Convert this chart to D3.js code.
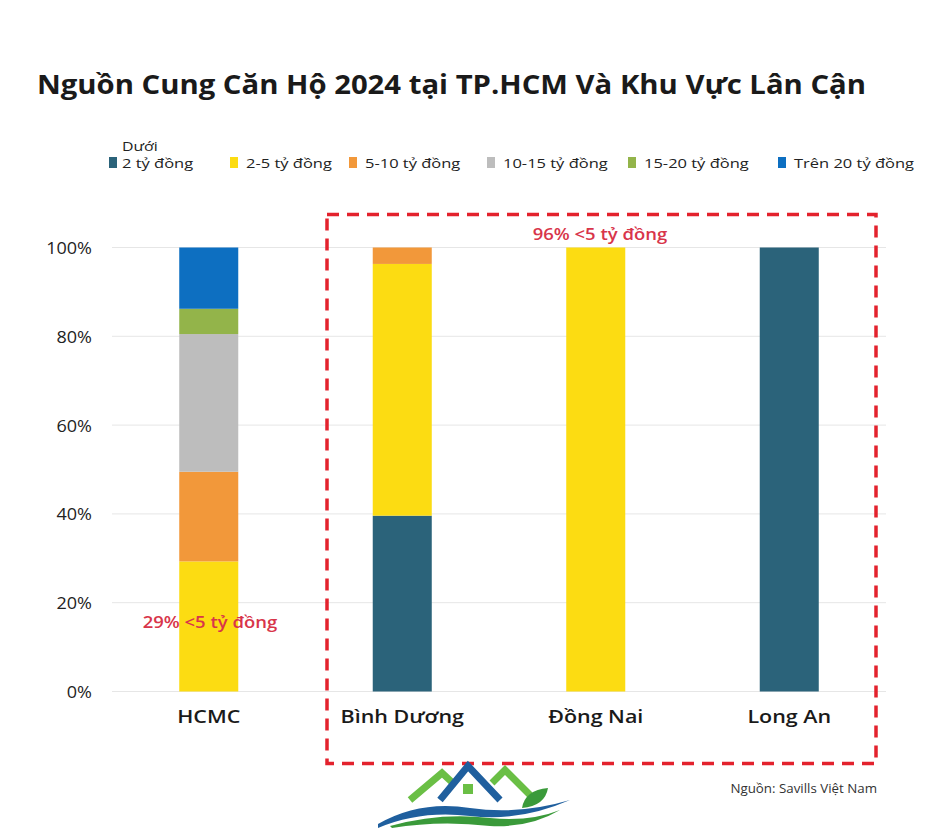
<!DOCTYPE html>
<html><head><meta charset="utf-8">
<script src="https://cdn.jsdelivr.net/npm/d3@7"></script>
<style>body{margin:0;background:#fff}svg{display:block}text{font-family:"Open Sans",sans-serif}</style>
</head><body>
<script>
const categories = ["HCMC", "Bình Dương", "Đồng Nai", "Long An"];
const seriesNames = ["2 tỷ đồng", "2-5 tỷ đồng", "5-10 tỷ đồng", "10-15 tỷ đồng", "15-20 tỷ đồng", "Trên 20 tỷ đồng"];
const seriesColors = ["#2b637a", "#fcdc12", "#f2983a", "#bdbdbd", "#93b44a", "#0d6fc1"];
const under2 = [0, 39.6, 0, 100];
const from2to5 = [29.3, 56.7, 100, 0];
const from5to10 = [20.2, 3.7, 0, 0];
const from10to15 = [31.0, 0, 0, 0];
const from15to20 = [5.7, 0, 0, 0];
const over20 = [13.8, 0, 0, 0];
const yTicks = [0, 20, 40, 60, 80, 100];

const W = 940, H = 828;
const FONT = "'Open Sans',sans-serif";
const svg = d3.select("body").append("svg").attr("width", W).attr("height", H);
const ml = 112, mr = 886, mt = 247.5, mb = 691.5;
const x = d3.scaleBand().domain(categories).range([ml, mr]).paddingInner(0.695).paddingOuter(0.3475);
const y = d3.scaleLinear().domain([0, 100]).range([mb, mt]);

function widen(sel, f) {
  sel.each(function () {
    const l = this.getComputedTextLength();
    d3.select(this).attr("textLength", l * f).attr("lengthAdjust", "spacingAndGlyphs");
  });
}

// title
svg.append("text").attr("x", 37).attr("y", 94).attr("font-size", 26).attr("font-weight", 700)
  .attr("fill", "#1a1a1a").attr("textLength", 829).attr("lengthAdjust", "spacingAndGlyphs")
  .text("Nguồn Cung Căn Hộ 2024 tại TP.HCM Và Khu Vực Lân Cận");

// legend
const legendX = [109, 230, 349, 487, 628, 778];
const lg = svg.append("g");
seriesNames.forEach((n, i) => {
  lg.append("rect").attr("x", legendX[i]).attr("y", 157).attr("width", 8).attr("height", 11).attr("fill", seriesColors[i]);
  lg.append("text").attr("class", "lt").attr("x", legendX[i] + (i === 0 ? 13 : 16)).attr("y", 167.5).attr("font-size", 13.5).attr("font-weight", 500)
    .attr("fill", "#222").text(n);
});
lg.append("text").attr("class", "lt").attr("x", 122).attr("y", 151).attr("font-size", 13).attr("font-weight", 500).attr("fill", "#222").text("Dưới");
widen(lg.selectAll("text.lt"), 1.22);

// gridlines
svg.append("g").selectAll("line").data(yTicks).join("line")
  .attr("x1", ml).attr("x2", mr).attr("y1", d => y(d)).attr("y2", d => y(d))
  .attr("stroke", "#e6e6e6").attr("stroke-width", 1);

// y axis labels
const yAxis = d3.axisLeft(y).tickValues(yTicks).tickFormat(d => d + "%").tickSize(0).tickPadding(0);
const ya = svg.append("g").attr("transform", `translate(92,0)`).call(yAxis);
ya.select(".domain").remove();
ya.selectAll("text").attr("font-size", 17).attr("fill", "#222").attr("font-family", FONT).attr("dy", "0.35em");
widen(ya.selectAll("text"), 1.06);

// stacked bars
const data = categories.map((c, i) => ({cat: c, s0: under2[i], s1: from2to5[i], s2: from5to10[i], s3: from10to15[i], s4: from15to20[i], s5: over20[i]}));
const stack = d3.stack().keys(["s0", "s1", "s2", "s3", "s4", "s5"]);
const layers = stack(data);
svg.append("g").selectAll("g").data(layers).join("g").attr("fill", (d, i) => seriesColors[i])
  .selectAll("rect").data(d => d).join("rect")
  .attr("x", d => x(d.data.cat)).attr("width", x.bandwidth())
  .attr("y", d => y(d[1])).attr("height", d => y(d[0]) - y(d[1]));

// x axis labels
const xAxis = d3.axisBottom(x).tickSize(0).tickPadding(0);
const xa = svg.append("g").attr("transform", `translate(0,${mb + 18})`).call(xAxis);
xa.select(".domain").remove();
xa.selectAll("text").attr("font-size", 18.5).attr("font-weight", 600).attr("fill", "#1a1a1a").attr("font-family", FONT).attr("dy", "0.71em");
widen(xa.selectAll("text"), 1.16);

// dashed box
svg.append("rect").attr("x", 327).attr("y", 214.5).attr("width", 549).attr("height", 549)
  .attr("fill", "none").attr("stroke", "#e3222d").attr("stroke-width", 3.5).attr("stroke-dasharray", "12,8");

// annotations
const ann = svg.append("g");
ann.append("text").attr("x", 600).attr("y", 240).attr("text-anchor", "middle").attr("font-size", 15.5).attr("font-weight", 600)
  .attr("fill", "#d8354a").text("96% <5 tỷ đồng");
ann.append("text").attr("x", 210).attr("y", 628).attr("text-anchor", "middle").attr("font-size", 15.5).attr("font-weight", 600)
  .attr("fill", "#d8354a").text("29% <5 tỷ đồng");
widen(ann.selectAll("text"), 1.19);

// source
const src = svg.append("text").attr("x", 877).attr("y", 793).attr("text-anchor", "end").attr("font-size", 12)
  .attr("fill", "#333").text("Nguồn: Savills Việt Nam");
widen(src, 1.11);

// logo (decorative)
const logo = svg.append("g");
logo.append("path").attr("d", "M410,800 L442,773 L455,785").attr("fill", "none").attr("stroke", "#6abf45").attr("stroke-width", 7);
logo.append("path").attr("d", "M492,783 L505,770 L535,800").attr("fill", "none").attr("stroke", "#6abf45").attr("stroke-width", 7);
logo.append("path").attr("d", "M440,800 L468,766 L500,800").attr("fill", "none").attr("stroke", "#1f5f9e").attr("stroke-width", 7);
logo.append("rect").attr("x", 463).attr("y", 784).attr("width", 10).attr("height", 10).attr("fill", "#6abf45");
logo.append("path").attr("d", "M378,824 Q420,800 470,808 Q520,815 570,800 Q520,822 470,816 Q420,810 378,828 Z").attr("fill", "#1f5f9e");
logo.append("path").attr("d", "M390,826 Q440,812 490,818 Q530,822 560,810 Q530,828 490,826 Q440,820 392,828 Z").attr("fill", "#3a9a3a");
logo.append("path").attr("d", "M522,808 Q525,790 548,788 Q545,806 522,808 Z").attr("fill", "#3a9a3a");
</script>
</body></html>
